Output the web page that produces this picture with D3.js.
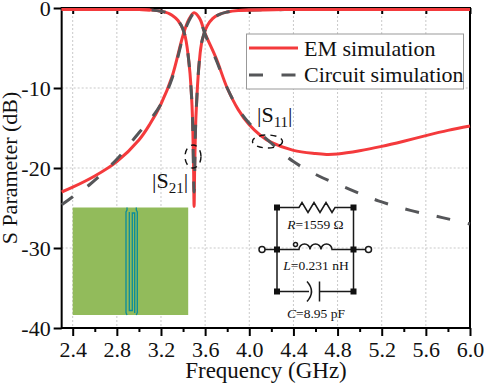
<!DOCTYPE html>
<html><head><meta charset="utf-8">
<script src="https://cdn.jsdelivr.net/npm/d3@7"></script>
<style>
html,body{margin:0;padding:0;background:#fff}
svg{display:block}
text{font-family:"Liberation Serif",serif;fill:#111}
</style></head><body>
<svg id="c" width="484" height="383"></svg>
<script>
const majorTicksX=[2.4,2.8,3.2,3.6,4.0,4.4,4.8,5.2,5.6,6.0];
const minorTicksX=[2.6,3.0,3.4,3.8,4.2,4.6,5.0,5.4,5.8];
const ticksY=[0,-10,-20,-30,-40];
const emS21F=[2.3,2.4,2.6,2.8,3.0,3.1,3.2,3.3,3.4,3.45,3.5,3.55,3.6,3.7,3.8,3.9,4.0,4.1,4.2,4.4,4.6,4.7,4.8,5.0,5.2,5.4,5.6,5.8,6.0];
const emS21V=[-23.0,-22.4,-21.0,-19.2,-16.5,-14.5,-12.0,-8.6,-3.4,-1.5,-0.6,-1.3,-3.2,-6.3,-10.0,-12.7,-14.6,-15.9,-16.8,-17.8,-18.2,-18.3,-18.25,-17.85,-17.3,-16.65,-15.95,-15.3,-14.75];
const cirS21F=[2.3,2.4,2.56,2.8,3.0,3.1,3.2,3.3,3.4,3.45,3.5,3.55,3.6,3.7,3.8,3.9,4.0,4.2,4.4,4.63,4.9,5.17,5.46,5.75,6.0];
const cirS21V=[-24.6,-23.6,-22.0,-18.9,-15.6,-14.0,-12.0,-8.8,-3.6,-1.7,-0.7,-1.4,-3.3,-6.5,-10.0,-12.6,-14.4,-16.9,-19.2,-21.0,-22.6,-24.1,-25.3,-26.2,-27.0];
const s11F=[2.3,2.8,3.0,3.1,3.2,3.3,3.35,3.4,3.42,3.45,3.47,3.487,3.495,3.5,3.505,3.512,3.525,3.555,3.59,3.62,3.67,3.73,3.8,3.9,4.0,4.4,5.0,6.0];
const emS11V=[-0.2,-0.2,-0.2,-0.25,-0.4,-0.9,-1.5,-2.7,-3.6,-6.4,-9.5,-14.5,-19.5,-24.8,-20,-15.5,-11.2,-5.6,-3.2,-2.2,-1.3,-0.8,-0.5,-0.3,-0.25,-0.2,-0.2,-0.2];
const cirS11F=[2.3,2.8,3.0,3.1,3.2,3.3,3.35,3.4,3.42,3.45,3.47,3.487,3.5,3.512,3.525,3.555,3.59,3.62,3.67,3.73,3.8,3.9,4.0,4.4,5.0,6.0];
const cirS11V=[-0.2,-0.2,-0.2,-0.25,-0.4,-0.9,-1.5,-2.7,-3.6,-6.4,-9.5,-14.5,-23,-15.5,-11.2,-5.6,-3.2,-2.2,-1.3,-0.8,-0.5,-0.3,-0.25,-0.2,-0.2,-0.2];
const flatLeftEnd=4, flatRightStart=21;
const legendLabels=["EM simulation","Circuit simulation"];
const xName="Frequency (GHz)", yName="S Parameter (dB)";
const RED="#f43a3c", GREY="#555659";

const svg=d3.select("#c");
const x=d3.scaleLinear().domain([2.4,6.0]).range([72.7,470]);
const y=d3.scaleLinear().domain([0,-40]).range([8,328]);
const x0=x(2.3);

const grid=svg.append("g").attr("stroke","#c9c9c9").attr("stroke-width",1).attr("stroke-dasharray","2,2");
grid.selectAll("line.v").data(majorTicksX.slice(0,-1)).join("line").attr("x1",d=>x(d)).attr("x2",d=>x(d)).attr("y1",y(0)).attr("y2",y(-40));
grid.selectAll("line.h").data(ticksY.slice(1,-1)).join("line").attr("y1",d=>y(d)).attr("y2",d=>y(d)).attr("x1",x0).attr("x2",x(6));

const ins=svg.append("g");
ins.append("rect").attr("x",x(2.4)).attr("y",207.5).attr("width",115.5).attr("height",107.5).attr("fill","#92bb5b");
const teal=ins.append("g").attr("fill","none").attr("stroke","#0b8c9c").attr("stroke-width",1.3);
teal.append("path").attr("d","M127 207.5V210L126 212V312.5L127 315M136.3 207.5V210L137.3 212V312.5L136.3 315");
teal.append("path").attr("d","M129.3 212V310.5H132.3V213H134.7V313");

const smooth=d3.line().x(d=>x(d[0])).y(d=>y(d[1])).curve(d3.curveCatmullRom.alpha(0.5));
const sharp=d3.line().x(d=>x(d[0])).y(d=>y(d[1])).curve(d3.curveMonotoneX);
const pts=(a,b)=>a.map((f,i)=>[f,b[i]]);
const plot=svg.append("g").attr("fill","none").attr("stroke-linejoin","round");
plot.append("path").attr("d",smooth(pts(emS21F,emS21V))).attr("stroke",RED).attr("stroke-width",3);
plot.append("path").attr("d",sharp(pts(s11F,emS11V))).attr("stroke",RED).attr("stroke-width",3);
const dash="14,18";
plot.append("path").attr("d",smooth(pts(cirS21F,cirS21V))).attr("stroke",GREY).attr("stroke-width",3).attr("stroke-dasharray",dash);
plot.append("path").attr("d",sharp(pts(cirS11F,cirS11V))).attr("stroke",GREY).attr("stroke-width",3).attr("stroke-dasharray",dash).attr("stroke-dashoffset",6);
// the flat pass-band stretches of the EM trace sit over the dashes
const flat=pts(s11F,emS11V);
plot.append("path").attr("d",sharp(flat.slice(0,flatLeftEnd))).attr("stroke",RED).attr("stroke-width",3);
plot.append("path").attr("d",sharp(flat.slice(flatRightStart+2))).attr("stroke",RED).attr("stroke-width",3);

const fmtX=d=>d.toFixed(1);
function style(g){g.selectAll("text").style("font-size","22px").style("font-family",'"Liberation Serif",serif').attr("fill","#111");g.selectAll("line").attr("stroke","#000").attr("stroke-width",2);g.select(".domain").remove();}
svg.append("g").attr("transform",`translate(0,${y(-40)})`).call(d3.axisBottom(x).tickValues(majorTicksX).tickFormat(fmtX).tickSize(8).tickPadding(5)).call(style);
svg.append("g").attr("transform",`translate(0,${y(-40)})`).call(d3.axisBottom(x).tickValues(minorTicksX).tickFormat("").tickSize(4)).call(style);
svg.append("g").attr("transform",`translate(0,${y(0)})`).call(d3.axisBottom(x).tickValues(majorTicksX).tickFormat("").tickSize(6)).call(style);
svg.append("g").attr("transform",`translate(${x0},0)`).call(d3.axisLeft(y).tickValues(ticksY).tickFormat(d=>d===0?"0":"-"+Math.abs(d)).tickSize(8).tickPadding(3)).call(style);
svg.append("rect").attr("x",x0).attr("y",y(0)).attr("width",x(6)-x0).attr("height",y(-40)-y(0)).attr("fill","none").attr("stroke","#000").attr("stroke-width",2);
plot.raise();

svg.append("text").attr("x",266).attr("y",378).attr("text-anchor","middle").style("font-size","23px").text(xName);
svg.append("text").attr("transform","translate(17,168) rotate(-90)").attr("text-anchor","middle").style("font-size","22px").text(yName);

const lg=svg.append("g");
lg.append("rect").attr("x",246.5).attr("y",34).attr("width",217).attr("height",55).attr("fill","#fff").attr("stroke","#999").attr("stroke-width",1);
lg.append("line").attr("x1",249).attr("x2",298).attr("y1",48).attr("y2",48).attr("stroke",RED).attr("stroke-width",3);
lg.append("line").attr("x1",249).attr("x2",298).attr("y1",75).attr("y2",75).attr("stroke",GREY).attr("stroke-width",3).attr("stroke-dasharray","14,18.5");
lg.selectAll("text").data(legendLabels).join("text").attr("x",304).attr("y",(d,i)=>56+i*26).style("font-size","22px").text(d=>d);

function sLabel(px,py,sub){const t=svg.append("text").attr("x",px).attr("y",py).style("font-size","22px");
 t.append("tspan").text("|S");t.append("tspan").attr("dy",5).style("font-size","15px").text(sub);t.append("tspan").attr("dy",-5).text("|");}
sLabel(152,188,"21");
sLabel(257,122,"11");
const ell=svg.append("g").attr("fill","none").attr("stroke","#111").attr("stroke-width",1.4).attr("stroke-dasharray","6,5");
ell.append("ellipse").attr("cx",193).attr("cy",156.5).attr("rx",8).attr("ry",11.5);
ell.append("ellipse").attr("cx",267.5).attr("cy",141.5).attr("rx",15).attr("ry",6.5);

const L=277,Rr=353.5,T=207.5,M=249.5,B=291.5;
const c=svg.append("g").attr("fill","none").attr("stroke","#1a1a1a").attr("stroke-width",1.5);
c.append("path").attr("d",`M${L} ${T}V${B}M${Rr} ${T}V${B}`);
c.append("path").attr("d",`M${L} ${T}H299l3 -5l6 10l6 -10l6 10l6 -10l6 10l3 -5H${Rr}`);
c.append("path").attr("d",`M265 ${M}H299a5.5 5.5 0 0 1 11 0a5.5 5.5 0 0 1 11 0a5.5 5.5 0 0 1 11 0H365.5`);
c.append("path").attr("d",`M${L} ${B}H309M320 ${B}H${Rr}M307 ${B-10}Q316 ${B} 307 ${B+10}M319.5 ${B-10}V${B+10}`);
c.append("circle").attr("cx",262).attr("cy",M).attr("r",3).attr("fill","#fff");
c.append("circle").attr("cx",368.5).attr("cy",M).attr("r",3).attr("fill","#fff");
c.append("circle").attr("cx",295.5).attr("cy",M-5).attr("r",2);
[[L,T],[Rr,T],[L,M],[Rr,M],[L,B],[Rr,B]].forEach(p=>c.append("rect").attr("x",p[0]-3).attr("y",p[1]-3).attr("width",6).attr("height",6).attr("fill","#111").attr("stroke","none"));
const lab=[["R","=1559 Ω",315.5,229],["L","=0.231 nH",316,270],["C","=8.95 pF",316,318]];
lab.forEach(a=>{const t=svg.append("text").attr("x",a[2]).attr("y",a[3]).attr("text-anchor","middle").style("font-size","13.5px");
 t.append("tspan").style("font-style","italic").text(a[0]);t.append("tspan").text(a[1]);});
</script>
</body></html>
